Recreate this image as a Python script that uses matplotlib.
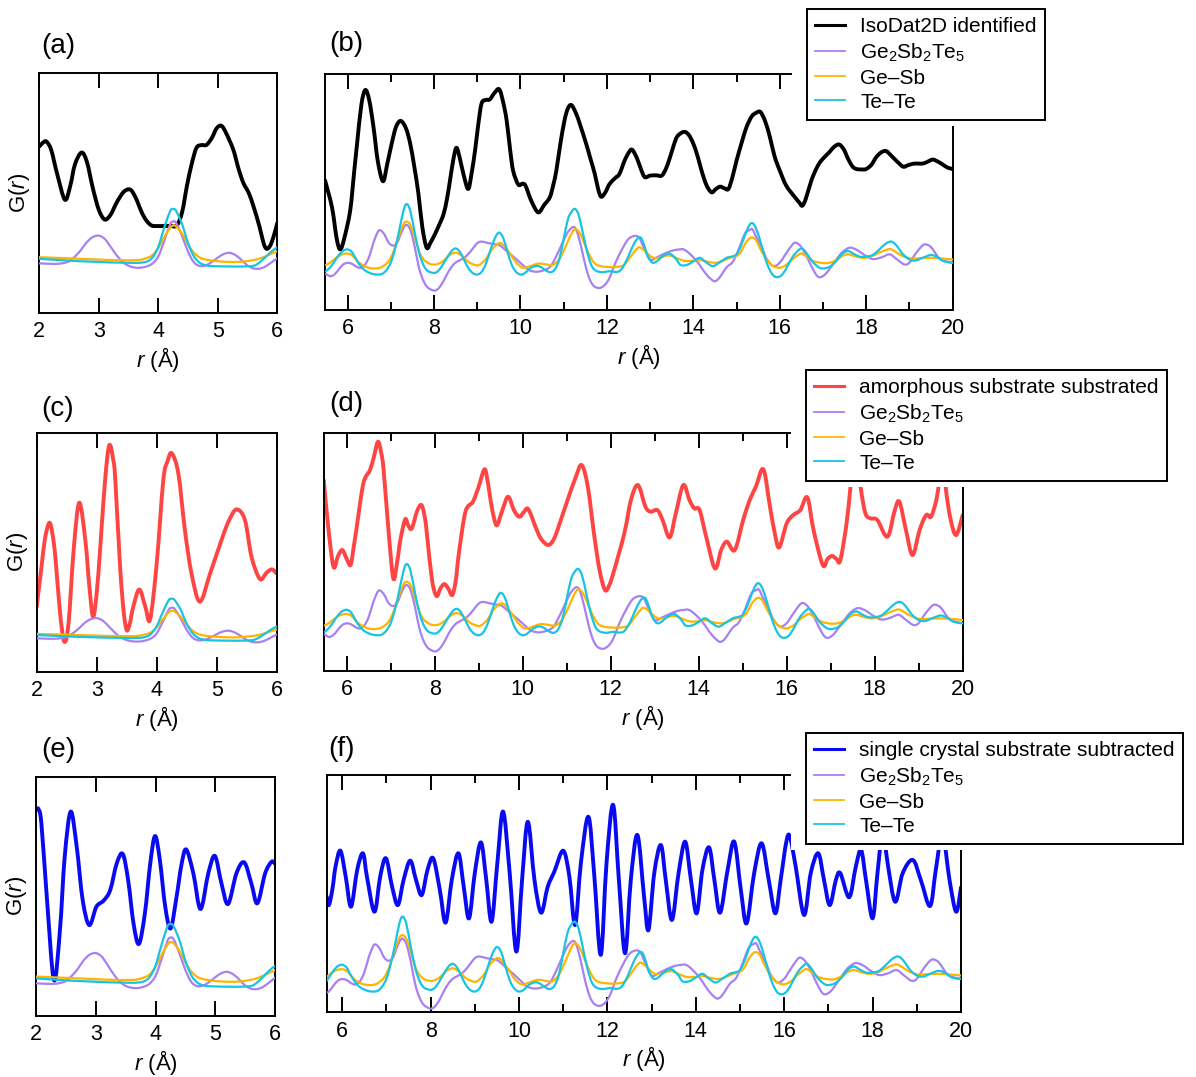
import numpy as np
import matplotlib
matplotlib.use("Agg")
import matplotlib.pyplot as plt
from matplotlib.path import Path
from matplotlib.patches import PathPatch, Rectangle
from matplotlib.lines import Line2D
from matplotlib.ticker import MultipleLocator

plt.rcParams["font.family"] = ["Liberation Sans", "DejaVu Sans"]
plt.rcParams["mathtext.fontset"] = "custom"
plt.rcParams["mathtext.rm"] = "Liberation Sans"
plt.rcParams["mathtext.it"] = "Liberation Sans:italic"

# ---- data: (r, G) pairs, arbitrary units ----
# reference curves, short range (panels a, c, e)
GST_SHORT = [(2.0, 0.206), (2.1, 0.205), (2.2, 0.204), (2.3, 0.204), (2.4, 0.207), (2.5, 0.215),
             (2.6, 0.235), (2.7, 0.262), (2.8, 0.295), (2.9, 0.316), (3.0, 0.322), (3.1, 0.308),
             (3.2, 0.275), (3.3, 0.24), (3.4, 0.212), (3.5, 0.196), (3.6, 0.189), (3.7, 0.188),
             (3.8, 0.193), (3.9, 0.205), (4.0, 0.235), (4.1, 0.3), (4.2, 0.37), (4.25, 0.381),
             (4.3, 0.375), (4.4, 0.32), (4.5, 0.255), (4.6, 0.21), (4.7, 0.195), (4.8, 0.198),
             (4.9, 0.212), (5.0, 0.23), (5.1, 0.245), (5.2, 0.25), (5.3, 0.24), (5.4, 0.22),
             (5.5, 0.197), (5.6, 0.185), (5.7, 0.184), (5.8, 0.193), (5.9, 0.21), (6.0, 0.228)]
GESB_SHORT = [(2.0, 0.232), (2.2, 0.23), (2.4, 0.228), (2.6, 0.226), (2.8, 0.224), (3.0, 0.222),
              (3.2, 0.22), (3.4, 0.219), (3.6, 0.219), (3.7, 0.221), (3.8, 0.228), (3.9, 0.24),
              (4.0, 0.27), (4.1, 0.315), (4.2, 0.355), (4.25, 0.364), (4.3, 0.36), (4.4, 0.33),
              (4.5, 0.285), (4.6, 0.25), (4.7, 0.23), (4.8, 0.222), (4.9, 0.218), (5.0, 0.215),
              (5.2, 0.212), (5.4, 0.213), (5.6, 0.22), (5.7, 0.226), (5.8, 0.235), (5.9, 0.246),
              (6.0, 0.257)]
TETE_SHORT = [(2.0, 0.225), (2.2, 0.222), (2.4, 0.219), (2.6, 0.216), (2.8, 0.214), (3.0, 0.212),
              (3.2, 0.21), (3.4, 0.209), (3.6, 0.208), (3.7, 0.209), (3.8, 0.213), (3.9, 0.23),
              (4.0, 0.275), (4.1, 0.355), (4.2, 0.425), (4.25, 0.433), (4.3, 0.425), (4.4, 0.37),
              (4.5, 0.29), (4.6, 0.235), (4.7, 0.208), (4.8, 0.198), (4.9, 0.195), (5.0, 0.194),
              (5.2, 0.193), (5.4, 0.193), (5.6, 0.196), (5.7, 0.21), (5.8, 0.232), (5.9, 0.255),
              (6.0, 0.274)]

# reference curves, long range (panels b, d, f)
GST_LONG = [(5.5, 0.152), (5.6, 0.142), (5.7, 0.15), (5.8, 0.172), (5.9, 0.192), (6.0, 0.199),
            (6.1, 0.195), (6.2, 0.183), (6.3, 0.177), (6.4, 0.19), (6.5, 0.225), (6.6, 0.285),
            (6.7, 0.33), (6.76, 0.337), (6.85, 0.32), (6.95, 0.285), (7.05, 0.272), (7.15, 0.285),
            (7.25, 0.33), (7.35, 0.36), (7.45, 0.34), (7.55, 0.27), (7.65, 0.18), (7.75, 0.125),
            (7.85, 0.095), (8.0, 0.081), (8.1, 0.09), (8.2, 0.115), (8.3, 0.15), (8.4, 0.18),
            (8.5, 0.2), (8.6, 0.21), (8.75, 0.228), (8.9, 0.26), (9.0, 0.282), (9.1, 0.289),
            (9.25, 0.283), (9.4, 0.278), (9.5, 0.275), (9.6, 0.262), (9.75, 0.238), (9.9, 0.215),
            (10.05, 0.19), (10.2, 0.168), (10.37, 0.161), (10.55, 0.168), (10.7, 0.185),
            (10.85, 0.235), (11.0, 0.295), (11.1, 0.33), (11.22, 0.351), (11.3, 0.335),
            (11.4, 0.27), (11.5, 0.19), (11.6, 0.13), (11.7, 0.1), (11.83, 0.092), (11.95, 0.105),
            (12.06, 0.135), (12.2, 0.2), (12.37, 0.263), (12.5, 0.3), (12.64, 0.313),
            (12.75, 0.305), (12.85, 0.265), (13.0, 0.213), (13.15, 0.222), (13.3, 0.235),
            (13.5, 0.25), (13.65, 0.255), (13.77, 0.256), (13.9, 0.24), (14.08, 0.206),
            (14.2, 0.175), (14.31, 0.148), (14.42, 0.128), (14.5, 0.121), (14.6, 0.135),
            (14.77, 0.18), (14.9, 0.2), (15.0, 0.235), (15.1, 0.28), (15.2, 0.325), (15.3, 0.338),
            (15.37, 0.341), (15.45, 0.31), (15.58, 0.265), (15.7, 0.215), (15.85, 0.185),
            (16.0, 0.2), (16.15, 0.24), (16.3, 0.278), (16.38, 0.284), (16.5, 0.265),
            (16.65, 0.215), (16.8, 0.16), (16.91, 0.138), (17.05, 0.15), (17.2, 0.185),
            (17.4, 0.235), (17.55, 0.258), (17.65, 0.263), (17.8, 0.252), (17.95, 0.233),
            (18.15, 0.215), (18.35, 0.222), (18.54, 0.235), (18.7, 0.215), (18.88, 0.192),
            (19.0, 0.2), (19.15, 0.24), (19.3, 0.272), (19.38, 0.277), (19.5, 0.265),
            (19.69, 0.218), (19.85, 0.205), (20.0, 0.2)]
GESB_LONG = [(5.5, 0.19), (5.6, 0.2), (5.7, 0.215), (5.8, 0.228), (5.9, 0.236), (6.0, 0.238),
             (6.1, 0.232), (6.2, 0.212), (6.3, 0.195), (6.45, 0.18), (6.6, 0.175), (6.75, 0.178),
             (6.9, 0.195), (7.0, 0.22), (7.1, 0.265), (7.2, 0.32), (7.3, 0.365), (7.37, 0.374),
             (7.45, 0.36), (7.55, 0.31), (7.65, 0.25), (7.75, 0.215), (7.9, 0.195), (8.05, 0.192),
             (8.2, 0.205), (8.35, 0.23), (8.5, 0.242), (8.65, 0.228), (8.8, 0.202), (8.95, 0.19),
             (9.05, 0.19), (9.2, 0.215), (9.35, 0.258), (9.5, 0.282), (9.6, 0.275), (9.75, 0.24),
             (9.9, 0.2), (10.05, 0.178), (10.2, 0.183), (10.35, 0.193), (10.45, 0.196),
             (10.6, 0.192), (10.75, 0.19), (10.9, 0.215), (11.05, 0.27), (11.2, 0.33),
             (11.29, 0.341), (11.4, 0.315), (11.55, 0.25), (11.7, 0.2), (11.85, 0.185),
             (12.06, 0.181), (12.25, 0.182), (12.4, 0.19), (12.55, 0.225), (12.7, 0.26),
             (12.78, 0.263), (12.9, 0.245), (13.05, 0.222), (13.2, 0.22), (13.35, 0.228),
             (13.46, 0.23), (13.6, 0.22), (13.8, 0.207), (14.0, 0.208), (14.15, 0.212),
             (14.3, 0.205), (14.5, 0.199), (14.65, 0.205), (14.85, 0.22), (15.0, 0.228),
             (15.1, 0.245), (15.2, 0.28), (15.3, 0.302), (15.37, 0.306), (15.45, 0.295),
             (15.55, 0.258), (15.7, 0.212), (15.85, 0.185), (16.0, 0.178), (16.15, 0.19),
             (16.3, 0.215), (16.45, 0.235), (16.52, 0.238), (16.65, 0.222), (16.8, 0.205),
             (17.0, 0.198), (17.15, 0.199), (17.3, 0.21), (17.45, 0.228), (17.58, 0.235),
             (17.75, 0.226), (17.92, 0.22), (18.1, 0.225), (18.3, 0.242), (18.5, 0.256),
             (18.6, 0.254), (18.8, 0.232), (19.0, 0.218), (19.2, 0.218), (19.46, 0.22),
             (19.7, 0.218), (20.0, 0.213)]
TETE_LONG = [(5.5, 0.163), (5.6, 0.18), (5.7, 0.205), (5.8, 0.232), (5.9, 0.25), (6.0, 0.256),
             (6.1, 0.245), (6.2, 0.213), (6.3, 0.185), (6.4, 0.167), (6.5, 0.157), (6.6, 0.151),
             (6.7, 0.149), (6.8, 0.152), (6.9, 0.168), (7.0, 0.2), (7.1, 0.26), (7.2, 0.34),
             (7.3, 0.425), (7.37, 0.448), (7.45, 0.42), (7.55, 0.33), (7.65, 0.245), (7.75, 0.192),
             (7.85, 0.165), (8.0, 0.156), (8.1, 0.165), (8.2, 0.19), (8.3, 0.22), (8.4, 0.248),
             (8.5, 0.26), (8.6, 0.245), (8.7, 0.21), (8.8, 0.175), (8.9, 0.155), (9.0, 0.149),
             (9.1, 0.16), (9.2, 0.195), (9.3, 0.25), (9.4, 0.3), (9.5, 0.327), (9.6, 0.305),
             (9.7, 0.245), (9.8, 0.19), (9.9, 0.16), (10.0, 0.149), (10.1, 0.155), (10.2, 0.172),
             (10.3, 0.183), (10.4, 0.186), (10.5, 0.178), (10.6, 0.165), (10.7, 0.159),
             (10.8, 0.172), (10.9, 0.215), (11.0, 0.3), (11.1, 0.385), (11.2, 0.42), (11.27, 0.427),
             (11.35, 0.4), (11.45, 0.32), (11.55, 0.24), (11.65, 0.185), (11.75, 0.165),
             (11.9, 0.159), (12.0, 0.162), (12.1, 0.163), (12.2, 0.16), (12.3, 0.165),
             (12.4, 0.19), (12.5, 0.228), (12.6, 0.27), (12.7, 0.3), (12.78, 0.306), (12.85, 0.28),
             (12.95, 0.225), (13.05, 0.2), (13.15, 0.205), (13.3, 0.228), (13.45, 0.238),
             (13.6, 0.215), (13.7, 0.19), (13.85, 0.19), (14.0, 0.205), (14.15, 0.22),
             (14.3, 0.2), (14.45, 0.185), (14.6, 0.2), (14.77, 0.22), (14.9, 0.226), (15.0, 0.235),
             (15.1, 0.27), (15.2, 0.32), (15.3, 0.36), (15.37, 0.367), (15.45, 0.345),
             (15.55, 0.29), (15.65, 0.225), (15.75, 0.175), (15.85, 0.145), (15.95, 0.138),
             (16.05, 0.148), (16.15, 0.175), (16.3, 0.225), (16.45, 0.255), (16.52, 0.259),
             (16.6, 0.245), (16.75, 0.205), (16.9, 0.18), (17.0, 0.175), (17.15, 0.182),
             (17.3, 0.205), (17.45, 0.238), (17.58, 0.249), (17.7, 0.238), (17.85, 0.225),
             (18.0, 0.225), (18.15, 0.232), (18.3, 0.255), (18.45, 0.28), (18.58, 0.289),
             (18.7, 0.272), (18.85, 0.235), (19.0, 0.213), (19.15, 0.209), (19.3, 0.22),
             (19.5, 0.232), (19.65, 0.222), (19.8, 0.205), (20.0, 0.199)]

# measured curves
BLACK_SHORT = [(2.0, 0.694), (2.06, 0.71), (2.12, 0.715), (2.2, 0.68), (2.3, 0.58), (2.43, 0.472),
               (2.52, 0.53), (2.6, 0.62), (2.71, 0.669), (2.8, 0.63), (2.9, 0.52), (3.0, 0.43),
               (3.1, 0.389), (3.2, 0.41), (3.3, 0.46), (3.42, 0.505), (3.53, 0.514), (3.62, 0.48),
               (3.72, 0.42), (3.8, 0.385), (3.89, 0.364), (4.0, 0.362), (4.1, 0.362), (4.2, 0.363),
               (4.31, 0.364), (4.4, 0.42), (4.48, 0.528), (4.56, 0.62), (4.64, 0.688), (4.72, 0.7),
               (4.81, 0.701), (4.9, 0.73), (4.98, 0.77), (5.06, 0.781), (5.14, 0.75), (5.26, 0.681),
               (5.35, 0.6), (5.43, 0.542), (5.52, 0.5), (5.6, 0.444), (5.7, 0.36), (5.77, 0.29),
               (5.82, 0.267), (5.88, 0.28), (5.94, 0.32), (6.0, 0.375)]
BLACK_LONG = [(5.48, 0.548), (5.64, 0.434), (5.75, 0.3), (5.83, 0.256), (5.92, 0.3), (6.06, 0.42),
              (6.15, 0.58), (6.22, 0.704), (6.32, 0.87), (6.41, 0.932), (6.5, 0.89), (6.6, 0.775),
              (6.7, 0.63), (6.82, 0.545), (6.92, 0.62), (7.02, 0.704), (7.12, 0.775), (7.23, 0.801),
              (7.35, 0.77), (7.45, 0.704), (7.55, 0.6), (7.64, 0.491), (7.73, 0.35), (7.83, 0.263),
              (7.92, 0.285), (8.02, 0.32), (8.12, 0.36), (8.22, 0.405), (8.3, 0.47), (8.37, 0.548),
              (8.45, 0.64), (8.52, 0.687), (8.6, 0.64), (8.68, 0.576), (8.79, 0.512), (8.87, 0.58),
              (8.95, 0.676), (9.02, 0.78), (9.1, 0.875), (9.2, 0.89), (9.29, 0.892), (9.4, 0.92),
              (9.51, 0.935), (9.6, 0.88), (9.68, 0.804), (9.76, 0.68), (9.83, 0.59), (9.95, 0.531),
              (10.05, 0.535), (10.12, 0.525), (10.25, 0.462), (10.41, 0.413), (10.55, 0.445),
              (10.68, 0.477), (10.76, 0.53), (10.83, 0.59), (10.92, 0.7), (11.02, 0.804),
              (11.1, 0.855), (11.18, 0.868), (11.28, 0.835), (11.37, 0.79), (11.52, 0.704),
              (11.62, 0.64), (11.72, 0.576), (11.8, 0.51), (11.87, 0.479), (11.97, 0.5),
              (12.06, 0.533), (12.2, 0.56), (12.29, 0.576), (12.41, 0.633), (12.5, 0.665),
              (12.58, 0.679), (12.69, 0.645), (12.8, 0.59), (12.88, 0.562), (13.0, 0.569),
              (13.15, 0.57), (13.27, 0.569), (13.37, 0.6), (13.46, 0.647), (13.55, 0.7),
              (13.62, 0.733), (13.72, 0.75), (13.81, 0.754), (13.9, 0.74), (14.0, 0.704),
              (14.1, 0.65), (14.19, 0.59), (14.3, 0.53), (14.42, 0.498), (14.52, 0.512),
              (14.62, 0.522), (14.72, 0.515), (14.81, 0.512), (14.9, 0.56), (15.0, 0.633),
              (15.12, 0.71), (15.23, 0.775), (15.35, 0.82), (15.45, 0.835), (15.55, 0.839),
              (15.66, 0.8), (15.77, 0.733), (15.88, 0.65), (16.0, 0.59), (16.15, 0.526),
              (16.35, 0.477), (16.45, 0.455), (16.52, 0.441), (16.6, 0.47), (16.73, 0.548),
              (16.85, 0.6), (16.96, 0.633), (17.15, 0.669), (17.25, 0.69), (17.37, 0.701),
              (17.48, 0.68), (17.58, 0.64), (17.68, 0.608), (17.77, 0.597), (17.9, 0.595),
              (18.0, 0.597), (18.12, 0.615), (18.23, 0.647), (18.35, 0.668), (18.46, 0.673),
              (18.57, 0.655), (18.69, 0.633), (18.85, 0.607), (18.95, 0.612), (19.08, 0.619),
              (19.2, 0.62), (19.31, 0.62), (19.42, 0.628), (19.54, 0.637), (19.66, 0.628),
              (19.77, 0.616), (19.88, 0.603), (20.0, 0.597)]
RED_SHORT = [(2.0, 0.272), (2.08, 0.439), (2.14, 0.56), (2.21, 0.623), (2.26, 0.58), (2.31, 0.481),
             (2.39, 0.244), (2.46, 0.126), (2.53, 0.202), (2.62, 0.523), (2.71, 0.707), (2.81, 0.551),
             (2.88, 0.35), (2.94, 0.23), (3.0, 0.33), (3.06, 0.523), (3.14, 0.802), (3.21, 0.948),
             (3.28, 0.88), (3.31, 0.802), (3.39, 0.439), (3.45, 0.25), (3.5, 0.174), (3.55, 0.2),
             (3.61, 0.272), (3.71, 0.344), (3.81, 0.272), (3.89, 0.219), (4.0, 0.453), (4.11, 0.802),
             (4.18, 0.88), (4.25, 0.914), (4.36, 0.83), (4.47, 0.593), (4.58, 0.411), (4.72, 0.293),
             (4.89, 0.411), (5.08, 0.551), (5.2, 0.63), (5.33, 0.679), (5.47, 0.635), (5.58, 0.481),
             (5.72, 0.388), (5.83, 0.414), (5.92, 0.428), (6.0, 0.411)]
RED_LONG = [(5.48, 0.801), (5.58, 0.605), (5.7, 0.437), (5.8, 0.48), (5.9, 0.507), (6.0, 0.47),
            (6.09, 0.444), (6.16, 0.52), (6.23, 0.605), (6.38, 0.787), (6.53, 0.843), (6.62, 0.9),
            (6.71, 0.962), (6.78, 0.92), (6.84, 0.843), (6.95, 0.591), (7.06, 0.388), (7.15, 0.46),
            (7.22, 0.549), (7.33, 0.636), (7.4, 0.61), (7.48, 0.598), (7.6, 0.67), (7.7, 0.696),
            (7.78, 0.64), (7.83, 0.563), (7.94, 0.381), (8.04, 0.314), (8.13, 0.345), (8.22, 0.364),
            (8.31, 0.345), (8.4, 0.318), (8.48, 0.38), (8.55, 0.493), (8.7, 0.668), (8.87, 0.71),
            (9.0, 0.773), (9.13, 0.846), (9.2, 0.8), (9.27, 0.717), (9.35, 0.64), (9.42, 0.612),
            (9.54, 0.675), (9.67, 0.731), (9.8, 0.675), (9.92, 0.647), (10.02, 0.665),
            (10.11, 0.682), (10.2, 0.65), (10.26, 0.619), (10.41, 0.556), (10.58, 0.528),
            (10.7, 0.55), (10.79, 0.591), (11.02, 0.717), (11.2, 0.81), (11.34, 0.864),
            (11.48, 0.773), (11.63, 0.563), (11.75, 0.42), (11.87, 0.339), (11.97, 0.36),
            (12.08, 0.423), (12.31, 0.577), (12.46, 0.717), (12.62, 0.78), (12.79, 0.689),
            (12.91, 0.668), (13.06, 0.675), (13.18, 0.633), (13.34, 0.56), (13.48, 0.661),
            (13.65, 0.78), (13.79, 0.717), (13.9, 0.682), (14.02, 0.675), (14.17, 0.563),
            (14.37, 0.43), (14.51, 0.507), (14.64, 0.542), (14.82, 0.507), (15.01, 0.633),
            (15.16, 0.717), (15.3, 0.773), (15.47, 0.846), (15.62, 0.689), (15.73, 0.577),
            (15.83, 0.518), (16.0, 0.619), (16.15, 0.654), (16.31, 0.675), (16.47, 0.728),
            (16.61, 0.591), (16.82, 0.444), (16.93, 0.47), (17.03, 0.482), (17.13, 0.47),
            (17.22, 0.465), (17.37, 0.633), (17.49, 0.843), (17.58, 0.95), (17.68, 0.773),
            (17.79, 0.661), (17.91, 0.64), (18.06, 0.633), (18.29, 0.563), (18.45, 0.67),
            (18.56, 0.71), (18.71, 0.591), (18.86, 0.486), (19.02, 0.591), (19.17, 0.654),
            (19.28, 0.647), (19.4, 0.717), (19.47, 0.8), (19.55, 0.9), (19.62, 0.76),
            (19.72, 0.64), (19.85, 0.57), (20.0, 0.654)]
BLUE_SHORT = [(2.0, 0.861), (2.04, 0.865), (2.09, 0.805), (2.18, 0.499), (2.3, 0.15), (2.4, 0.359),
              (2.48, 0.666), (2.58, 0.854), (2.68, 0.708), (2.78, 0.485), (2.89, 0.38), (3.01, 0.457),
              (3.13, 0.482), (3.24, 0.526), (3.35, 0.638), (3.45, 0.677), (3.54, 0.568),
              (3.63, 0.387), (3.72, 0.301), (3.82, 0.429), (3.91, 0.638), (3.99, 0.752),
              (4.07, 0.652), (4.16, 0.457), (4.25, 0.366), (4.35, 0.499), (4.43, 0.63),
              (4.51, 0.696), (4.63, 0.596), (4.75, 0.447), (4.88, 0.596), (4.99, 0.669),
              (5.1, 0.554), (5.21, 0.468), (5.35, 0.596), (5.48, 0.642), (5.6, 0.554),
              (5.7, 0.471), (5.83, 0.596), (5.94, 0.645), (6.0, 0.635)]
BLUE_LONG = [(5.65, 0.487), (5.7, 0.452), (5.78, 0.52), (5.85, 0.614), (5.96, 0.681), (6.08, 0.572),
             (6.2, 0.445), (6.34, 0.6), (6.47, 0.67), (6.56, 0.572), (6.73, 0.424), (6.86, 0.572),
             (6.99, 0.649), (7.13, 0.529), (7.26, 0.452), (7.39, 0.558), (7.54, 0.639), (7.67, 0.558),
             (7.8, 0.494), (7.93, 0.6), (8.06, 0.649), (8.21, 0.515), (8.34, 0.378), (8.48, 0.558),
             (8.63, 0.67), (8.75, 0.529), (8.87, 0.396), (9.0, 0.586), (9.14, 0.716), (9.26, 0.558),
             (9.38, 0.382), (9.51, 0.628), (9.64, 0.846), (9.79, 0.586), (9.94, 0.256),
             (10.07, 0.558), (10.2, 0.803), (10.35, 0.558), (10.5, 0.42), (10.65, 0.529),
             (10.8, 0.593), (11.0, 0.681), (11.14, 0.572), (11.27, 0.368), (11.4, 0.628),
             (11.57, 0.824), (11.7, 0.586), (11.85, 0.242), (11.98, 0.628), (12.13, 0.874),
             (12.26, 0.558), (12.4, 0.249), (12.53, 0.558), (12.68, 0.747), (12.83, 0.487),
             (12.93, 0.347), (13.06, 0.586), (13.21, 0.705), (13.32, 0.558), (13.46, 0.389),
             (13.61, 0.586), (13.76, 0.719), (13.89, 0.558), (14.02, 0.417), (14.15, 0.6),
             (14.3, 0.695), (14.42, 0.558), (14.55, 0.42), (14.72, 0.6), (14.87, 0.719),
             (15.02, 0.515), (15.15, 0.375), (15.32, 0.586), (15.49, 0.712), (15.65, 0.558),
             (15.8, 0.417), (15.92, 0.558), (16.05, 0.72), (16.13, 0.74), (16.26, 0.614),
             (16.45, 0.41), (16.6, 0.586), (16.77, 0.67), (16.9, 0.558), (17.03, 0.452),
             (17.17, 0.558), (17.27, 0.586), (17.47, 0.485), (17.62, 0.614), (17.74, 0.684),
             (17.85, 0.558), (18.0, 0.396), (18.11, 0.586), (18.23, 0.768), (18.34, 0.628),
             (18.51, 0.466), (18.68, 0.586), (18.91, 0.642), (19.09, 0.558), (19.3, 0.448),
             (19.43, 0.6), (19.58, 0.754), (19.74, 0.558), (19.89, 0.424), (20.0, 0.526)]

MAIN_LABELS = ["IsoDat2D identified", "amorphous substrate substrated",
               "single crystal substrate subtracted"]
REF_LABELS = [r"Ge$_2$Sb$_2$Te$_5$", "Ge\u2013Sb", "Te\u2013Te"]

MAIN_COLORS = ["#000000", "#ff4444", "#0a0af0"]
REF_COLORS = ["#a980f2", "#ffb400", "#17c4e3"]

W, H = 1196, 1077


def px_box(x0, y0, x1, y1):
    return [x0 / W, 1 - y1 / H, (x1 - x0) / W, (y1 - y0) / H]


def smooth_line(ax, pts, color, lw, zorder):
    # draw the read points as one smooth bezier path through every point
    p = np.asarray(pts, dtype=float)
    ext = np.vstack([p[0], p, p[-1]])
    verts = [p[0]]
    codes = [Path.MOVETO]
    for i in range(len(p) - 1):
        p0, p1, p2, p3 = ext[i], ext[i + 1], ext[i + 2], ext[i + 3]
        verts += [p1 + (p2 - p0) / 6, p2 - (p3 - p1) / 6, p2]
        codes += [Path.CURVE4] * 3
    patch = PathPatch(Path(verts, codes), fill=False, edgecolor=color, lw=lw,
                      zorder=zorder, capstyle="round", joinstyle="round")
    ax.add_patch(patch)


# panel: letter, pixel box, xlim, main curve, row, short/long refs, ref scale + shift
panels = [
    ("(a)", (39.3, 73.3, 277.3, 312.7), (2, 6), BLACK_SHORT, 0, "short", 1.0, 0.0),
    ("(b)", (325.3, 74.0, 952.7, 309.7), (5.485, 20), BLACK_LONG, 0, "long", 1.0, 0.0),
    ("(c)", (36.7, 432.7, 276.7, 671.7), (2, 6), RED_SHORT, 1, "short", 0.73, -0.011),
    ("(d)", (324.0, 432.7, 962.7, 670.7), (5.485, 20), RED_LONG, 1, "long", 1.0, 0.0),
    ("(e)", (36.0, 776.7, 275.3, 1016.0), (2, 6), BLUE_SHORT, 2, "short", 1.09, -0.088),
    ("(f)", (326.7, 775.0, 961.0, 1012.3), (5.65, 20), BLUE_LONG, 2, "long", 1.056, -0.070),
]
letter_pos = [(41, 46), (329, 44), (41, 409), (329, 404), (41, 750), (328, 749)]
refs = {"short": [GST_SHORT, GESB_SHORT, TETE_SHORT],
        "long": [GST_LONG, GESB_LONG, TETE_LONG]}

fig = plt.figure(figsize=(W / 100, H / 100), dpi=100)

for (letter, pbox, xlim, main, row, rng, scale, shift), (lx, ly) in zip(panels, letter_pos):
    ax = fig.add_axes(px_box(*pbox))
    smooth_line(ax, main, MAIN_COLORS[row], 2.8, 2)
    for k, (ref, col) in enumerate(zip(refs[rng], REF_COLORS)):
        r = np.array([p[0] for p in ref])
        g = np.array([p[1] for p in ref]) * scale + shift
        smooth_line(ax, np.column_stack([r, g]), col, 1.6, 3 + k * 0.1)
    ax.set_xlim(*xlim)
    ax.set_ylim(0, 1)
    ax.set_yticks([])
    if rng == "short":
        ax.xaxis.set_major_locator(MultipleLocator(1))
        ax.set_ylabel(r"G($\mathit{r}$)", fontsize=16, labelpad=5)
    else:
        ax.xaxis.set_major_locator(MultipleLocator(2))
        ax.xaxis.set_minor_locator(MultipleLocator(1))
    ax.tick_params(axis="x", which="both", direction="in", top=True, bottom=True,
                   labelsize=15.5, pad=6, width=1.4)
    ax.tick_params(axis="x", which="major", length=11)
    ax.tick_params(axis="x", which="minor", length=5.5)
    for sp in ax.spines.values():
        sp.set_linewidth(1.4)
    ax.set_xlabel(r"$\mathit{r}$ (Å)", fontsize=16, labelpad=2)
    fig.text(lx / W, 1 - ly / H, letter, fontsize=20, va="center", ha="left")

legend_corners = [(807, 9), (806, 370), (806, 733)]
legends = []
for row, (cx, cy) in enumerate(legend_corners):
    handles = [Line2D([], [], color=MAIN_COLORS[row], lw=2.2)]
    handles += [Line2D([], [], color=c, lw=1.3) for c in REF_COLORS]
    leg = fig.legend(handles, [MAIN_LABELS[row]] + REF_LABELS, loc="upper left",
                     bbox_to_anchor=(cx / W, 1 - cy / H), bbox_transform=fig.transFigure,
                     frameon=True, fancybox=False, edgecolor="black", framealpha=1,
                     fontsize=15, handlelength=1.4, handletextpad=0.75, labelspacing=0.24,
                     borderpad=0.4, borderaxespad=0)
    leg.get_frame().set_linewidth(1.4)
    legends.append(leg)

# the legends blank out a margin around their frame
fig.canvas.draw()
for leg in legends:
    bb = leg.get_window_extent()
    fig.patches.append(Rectangle(((bb.x0 - 15) / W, (bb.y0 - 6) / H), (bb.width + 19) / W,
                                 (bb.height + 10) / H, transform=fig.transFigure,
                                 facecolor="white", edgecolor="none", zorder=4))

fig.savefig("out.png", dpi=100)
